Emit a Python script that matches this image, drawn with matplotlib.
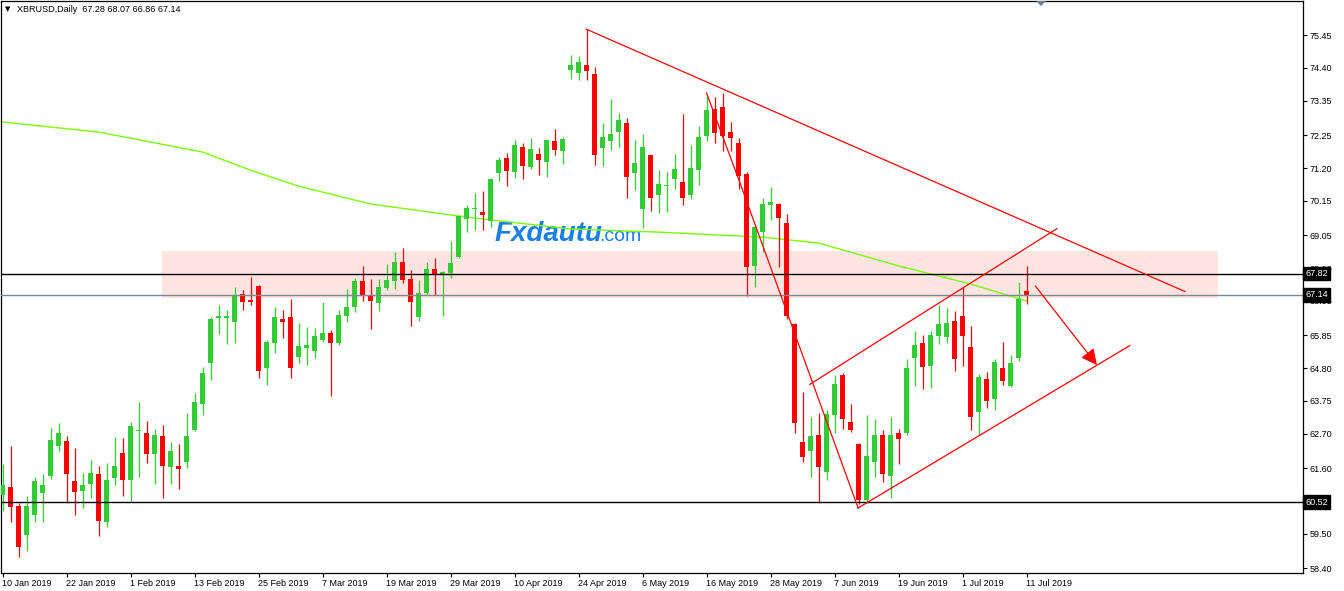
import matplotlib
matplotlib.use("Agg")
import matplotlib.pyplot as plt
from matplotlib.patches import Rectangle, Polygon
from matplotlib.transforms import IdentityTransform, blended_transform_factory

# XBRUSD daily candles, 10 Jan 2019 .. 11 Jul 2019
opens = [60.74, 61.00, 60.39, 59.47, 60.11, 60.82, 61.36, 62.32, 62.47, 61.19,
         60.88, 61.10, 61.41, 59.89, 61.30, 62.09, 61.23, 62.78, 62.73, 62.06,
         62.63, 61.65, 61.67, 61.81, 62.82, 63.66, 64.95, 66.41, 66.41, 66.26,
         67.17, 66.98, 67.43, 64.82, 65.59, 66.37, 66.44, 65.17, 65.43, 65.36,
         65.71, 65.93, 65.62, 66.48, 66.74, 67.59, 67.12, 66.89, 67.37, 67.59,
         68.19, 67.65, 66.44, 67.20, 67.96, 67.82, 67.85, 68.36, 69.57, 69.89,
         69.79, 69.50, 71.04, 71.51, 71.07, 71.87, 71.23, 71.64, 71.39, 72.06,
         71.74, 74.33, 74.24, 74.49, 74.20, 71.84, 72.06, 72.35, 72.64, 71.04,
         69.89, 71.61, 70.33, 70.61, 70.85, 70.75, 70.33, 71.13, 72.22, 73.08,
         73.15, 72.35, 72.00, 71.00, 68.06, 69.15, 70.02, 70.04, 69.43, 66.20,
         62.43, 62.14, 62.66, 61.47, 63.30, 64.57, 63.07, 62.37, 60.58, 61.79,
         62.66, 61.34, 62.73, 62.73, 65.13, 65.61, 64.87, 65.83, 65.80, 66.31,
         66.47, 65.48, 63.40, 64.45, 63.81, 64.81, 64.23, 65.13, 67.28]
highs = [61.73, 62.31, 60.48, 60.71, 61.32, 61.41, 62.89, 63.05, 62.63, 62.25,
         61.45, 61.86, 61.67, 61.77, 62.60, 62.57, 63.08, 63.72, 63.11, 62.85,
         62.98, 62.44, 62.37, 63.36, 64.00, 64.85, 66.43, 66.82, 66.66, 67.40,
         67.30, 67.72, 67.46, 65.70, 66.76, 66.66, 67.01, 66.25, 66.12, 66.09,
         66.92, 66.02, 66.66, 67.33, 67.69, 68.07, 67.65, 67.65, 68.12, 68.50,
         68.65, 67.93, 67.61, 68.19, 68.32, 67.92, 68.86, 69.71, 70.01, 70.40,
         70.46, 70.88, 71.55, 71.67, 72.09, 71.99, 72.15, 71.83, 72.09, 72.44,
         72.19, 74.81, 74.78, 75.64, 74.43, 72.64, 73.40, 72.96, 72.80, 72.09,
         72.28, 71.61, 71.13, 71.07, 71.64, 72.92, 71.93, 72.54, 73.56, 73.47,
         73.60, 72.67, 72.16, 71.07, 69.40, 70.23, 70.59, 70.07, 69.72, 66.24,
         64.03, 63.23, 63.36, 63.46, 64.57, 64.64, 63.65, 62.40, 63.30, 63.17,
         62.82, 63.23, 62.85, 65.09, 65.99, 65.86, 65.99, 66.82, 66.73, 66.63,
         67.40, 66.15, 64.61, 64.68, 65.09, 65.64, 65.22, 67.56, 68.07]
lows = [60.24, 59.89, 58.77, 58.96, 59.89, 59.89, 61.27, 62.16, 60.48, 60.11,
        60.34, 60.66, 59.44, 59.73, 61.07, 60.72, 60.51, 61.33, 61.78, 61.10,
        60.66, 61.10, 60.95, 61.62, 62.79, 63.30, 64.43, 65.90, 65.58, 65.62,
        66.67, 66.83, 64.50, 64.27, 65.27, 65.78, 64.47, 64.95, 64.91, 65.11,
        65.65, 63.92, 65.55, 66.26, 66.61, 66.96, 66.06, 66.63, 67.30, 67.34,
        67.53, 66.15, 66.31, 67.17, 67.13, 66.47, 67.69, 68.33, 69.16, 69.22,
        69.22, 69.31, 70.78, 70.62, 70.88, 70.84, 71.16, 70.97, 70.91, 71.61,
        71.32, 74.04, 74.01, 74.01, 71.29, 71.26, 71.77, 71.87, 70.24, 70.49,
        69.28, 69.82, 69.76, 69.79, 70.53, 70.01, 70.21, 70.65, 72.06, 72.00,
        71.74, 71.74, 70.53, 67.10, 67.40, 68.51, 69.53, 68.03, 66.36, 62.72,
        61.79, 61.31, 60.50, 61.22, 62.72, 62.85, 62.75, 60.45, 60.50, 61.31,
        61.15, 60.64, 61.74, 62.66, 64.23, 64.13, 64.17, 65.57, 65.61, 64.71,
        64.87, 62.82, 62.66, 63.53, 63.46, 64.26, 64.20, 65.03, 66.86]
closes = [61.06, 60.37, 59.09, 60.39, 61.19, 61.06, 62.50, 62.73, 61.42, 60.85,
          61.06, 61.45, 59.92, 61.22, 61.67, 61.23, 62.95, 62.81, 62.06, 62.66,
          61.68, 62.15, 61.58, 62.63, 63.72, 64.65, 66.37, 66.46, 66.46, 67.14,
          66.93, 66.90, 64.72, 65.64, 66.44, 66.26, 64.79, 65.51, 65.54, 65.83,
          65.93, 65.59, 66.50, 66.76, 67.59, 67.12, 66.96, 67.40, 67.61, 68.19,
          67.62, 66.92, 67.20, 67.96, 67.80, 67.87, 68.16, 69.68, 69.92, 69.92,
          69.70, 70.84, 71.45, 71.10, 71.93, 71.26, 71.80, 71.45, 72.09, 71.77,
          72.12, 74.49, 74.59, 74.30, 71.61, 72.19, 72.28, 72.73, 70.91, 71.36,
          71.87, 70.24, 70.69, 70.65, 71.16, 70.24, 71.20, 72.19, 73.05, 72.32,
          72.22, 72.16, 70.94, 68.03, 69.31, 70.04, 70.11, 69.60, 66.46, 63.04,
          61.95, 62.62, 61.63, 63.33, 64.29, 63.17, 62.82, 60.58, 61.98, 62.66,
          61.41, 62.66, 62.54, 64.81, 65.54, 64.84, 65.86, 66.21, 66.25, 65.10,
          65.83, 63.25, 64.52, 63.75, 65.00, 64.39, 64.97, 67.01, 67.14]

date_labels = ["10 Jan 2019", "22 Jan 2019", "1 Feb 2019", "13 Feb 2019",
               "25 Feb 2019", "7 Mar 2019", "19 Mar 2019", "29 Mar 2019",
               "10 Apr 2019", "24 Apr 2019", "6 May 2019", "16 May 2019",
               "28 May 2019", "7 Jun 2019", "19 Jun 2019", "1 Jul 2019",
               "11 Jul 2019"]
label_step = 8

# moving average (green), read at a few bars
ma_bars = [0, 12, 25, 31, 37, 46, 58, 71, 82, 95, 102, 106, 112, 121, 128]
ma_values = [72.67, 72.35, 71.71, 71.13, 70.62, 70.05, 69.63, 69.25, 69.15,
             68.99, 68.80, 68.51, 68.07, 67.49, 66.95]

price_ticks = [75.45, 74.40, 73.35, 72.25, 71.20, 70.15, 69.05, 68.00, 66.95,
               65.85, 64.80, 63.75, 62.70, 61.60, 59.50, 58.40]

level_resist = 67.82
level_last = 67.14
level_support = 60.52

zone_bars = [19.9, 151.9]
zone_prices = [67.05, 68.55]

# hand-drawn trend lines: (bar, price) pairs
down_line = [(72.96, 75.64), (147.8, 67.25)]
drop_line = [(88.0, 73.60), (92.2, 70.71), (106.95, 60.33)]
channel_top = [(100.9, 64.28), (131.8, 69.26)]
channel_bot = [(106.95, 60.33), (140.9, 65.52)]
arrow_line = [(129.1, 67.43), (136.8, 64.90)]

W, H = 1344, 591
GREEN = "#32cd32"
RED = "#ff0000"
FONT = ["Liberation Sans", "DejaVu Sans"]

fig = plt.figure(figsize=(W / 100, H / 100), dpi=100)
fig.patch.set_facecolor("white")
ax = fig.add_axes([1 / W, 18 / H, 1302 / W, 572 / H])
ax.set_xlim(-0.19, 162.56)
ax.set_ylim(58.25, 76.54)

# resistance zone
ax.add_patch(Rectangle((zone_bars[0], zone_prices[0]), zone_bars[1] - zone_bars[0],
                       zone_prices[1] - zone_prices[0], facecolor="#ffe4e1",
                       edgecolor="none", zorder=0.5))

# moving average
ax.plot(ma_bars, ma_values, color="#7cfc00", lw=1.0, zorder=2)

# candles
idx = list(range(len(opens)))
colors = [GREEN if c >= o else RED for o, c in zip(opens, closes)]
ax.vlines(idx, lows, highs, colors=colors, lw=0.9, zorder=3)
bottoms = [min(o, c) for o, c in zip(opens, closes)]
heights = [max(abs(c - o), 0.035) for o, c in zip(opens, closes)]
ax.bar(idx, heights, bottom=bottoms, width=0.62, color=colors, lw=0, zorder=3.1)

# horizontal levels
ax.axhline(level_resist, color="black", lw=1.0, zorder=4)
ax.axhline(level_last, color="#778899", lw=1.0, zorder=4)
ax.axhline(level_support, color="black", lw=1.0, zorder=4)

# trend lines
for line in (down_line, drop_line, channel_top, channel_bot):
    xs, ys = zip(*line)
    ax.plot(xs, ys, color=RED, lw=0.9, zorder=5)
ax.annotate("", xy=arrow_line[1], xytext=arrow_line[0],
            arrowprops=dict(arrowstyle="-|>", color=RED, lw=0.9,
                            mutation_scale=24, shrinkA=0, shrinkB=0),
            zorder=5)

# axes look
for side in ("left", "right", "top", "bottom"):
    ax.spines[side].set_linewidth(0.9)
    ax.spines[side].set_color("black")
ax.yaxis.tick_right()
ax.set_yticks(price_ticks)
ax.set_yticklabels([f"{v:.2f}" for v in price_ticks], fontfamily=FONT)
ax.tick_params(axis="y", length=3, width=0.8, pad=2, labelsize=6.5)

tick_bars = [i * label_step for i in range(len(date_labels))]
ax.set_xticks(tick_bars)
ax.set_xticklabels([])
ax.tick_params(axis="x", length=3, width=0.8)
trans_x = blended_transform_factory(ax.transData, ax.transAxes)
for b, lab in zip(tick_bars, date_labels):
    ax.text(b - 0.1, -0.011, lab, transform=trans_x, ha="left", va="top",
            fontsize=6.5, fontfamily=FONT, clip_on=False)

# price boxes on the scale
trans_y = blended_transform_factory(ax.transAxes, ax.transData)
for v in (level_resist, level_last, level_support):
    ax.text(1.002, v, f"{v:.2f}", transform=trans_y, ha="left", va="center",
            fontsize=6.5, fontfamily=FONT, color="white", clip_on=False,
            zorder=10, bbox=dict(boxstyle="square,pad=0.25", fc="black",
                                 ec="black"))

# header
fig.text(5 / W, 1 - 9.5 / H, "\u25bc", fontsize=5, color="black",
         family="DejaVu Sans", va="center", ha="left")
fig.text(17 / W, 1 - 9.5 / H,
         f"XBRUSD,Daily  {opens[-1]:.2f} {highs[-1]:.2f} {lows[-1]:.2f} {closes[-1]:.2f}",
         fontsize=6.5, fontfamily=FONT, va="center", ha="left")

# chart shift marker
fig.add_artist(Polygon([[1036, H - 1], [1046, H - 1], [1041, H - 6]], closed=True,
                       transform=IdentityTransform(), fc="#708090", ec="none"))

# watermark
ax.text(495 / W, 1 - 241 / H, "Fxdautu", transform=fig.transFigure,
        fontsize=20, fontweight="bold", fontstyle="italic", fontfamily=FONT,
        color="#1a7fe8", va="baseline", ha="left", zorder=1.5)
ax.text(599 / W, 1 - 241 / H, ".com", transform=fig.transFigure,
        fontsize=14, fontfamily=FONT, color="#1a7fe8", va="baseline",
        ha="left", zorder=1.5)

fig.savefig("out.png", dpi=100)
